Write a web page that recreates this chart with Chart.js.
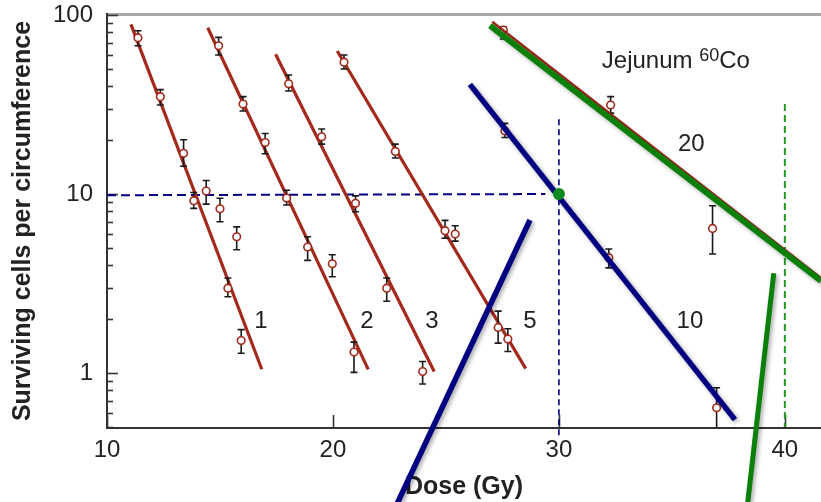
<!DOCTYPE html>
<html><head><meta charset="utf-8">
<script src="https://cdn.jsdelivr.net/npm/chart.js@4.4.1/dist/chart.umd.min.js"></script>
<style>html,body{margin:0;padding:0;background:#fff;overflow:hidden}</style>
</head><body>
<canvas id="c" width="821" height="502"></canvas>
<script>
// ---------------- data ----------------
const xTicks = [10, 20, 30, 40];
const yTickLabels = [1, 10, 100];

// measured survival points (dose Gy, surviving cells) with error bar ends
const pointDose = [11.37,12.36,13.39,14.94,16.02,17.00,18.04,19.50,20.49,22.76,
                   13.84,14.39,15.00,15.74,15.35,15.94,17.95,18.88,19.97,20.93,
                   21.00,22.38,23.97,24.96,25.41,27.31,27.74,27.54,27.61,32.21,
                   32.29,36.80,36.98];
const pointSurv = [74.7,35.0,16.9,67.3,31.8,19.4,41.3,20.9,54.5,17.3,
                   9.18,10.4,8.27,5.77,2.98,1.52,9.50,5.06,4.08,1.31,
                   8.88,2.98,1.02,6.24,5.98,1.80,1.55,82.4,22.5,4.41,
                   31.4,6.43,0.64];
const pointHi   = [81.7,38.3,20.1,75.0,35.0,21.8,46.2,23.1,59.8,19.0,
                   10.2,11.9,9.47,6.56,3.40,1.75,10.5,5.77,4.58,1.49,
                   9.77,3.40,1.16,7.13,6.65,2.22,1.77,86.0,24.8,4.93,
                   35.0,8.61,0.828];
const pointLo   = [67.3,31.4,14.3,59.8,29.1,16.8,37.6,19.0,49.9,15.9,
                   8.32,8.79,7.00,4.89,2.67,1.29,8.69,4.26,3.45,1.01,
                   7.96,2.52,0.87,5.66,5.46,1.47,1.32,73.4,20.7,3.87,
                   28.3,4.63,0.45];

// fitted survival curves (end points: dose, survival)
const fit1Dose = [11.06, 16.85];  const fit1Surv = [88.7, 1.05];
const fit2Dose = [14.46, 21.56];  const fit2Surv = [84.9, 1.05];
const fit3Dose = [17.46, 24.48];  const fit3Surv = [60.3, 1.02];
const fit5Dose = [20.19, 28.53];  const fit5Surv = [62.9, 1.06];
const fit10Dose = [26.06, 37.79]; const fit10Surv = [41.0, 0.55];
const fit20RedDose = [27.05, 41.6]; const fit20RedSurv = [91.8, 3.39];
const fit20Dose = [26.95, 41.6];  const fit20Surv = [87.1, 3.27];
const blueRiseDose = [22.50, 28.72]; const blueRiseSurv = [0.151, 7.16];
const greenRiseDose = [38.27, 39.51]; const greenRiseSurv = [0.151, 3.61];

// reference lines
const refHDose = [10, 29.4];   const refHSurv = [9.85, 10];
const refVDose = [30, 30];     const refVSurv = [26.2, 0.45];
const ref40Dose = [40, 40];    const ref40Surv = [31.8, 0.5];
const markDose = [30];         const markSurv = [10];

// text annotations
const labelText = ['1', '2', '3', '5', '10', '20'];
const labelDose = [16.81, 21.50, 24.38, 28.72, 35.80, 35.86];
const labelSurv = [1.95, 1.94, 1.94, 1.94, 1.94, 19.0];
const titleText = ['Jejunum ', '60', 'Co'];
const titleDose = 31.90, titleSurv = 50.6;

// ---------------- styles ----------------
const RED = '#a2291b', BLUE = '#000080', GREEN = '#0a800a', DGREEN = '#1f9a1f', INK = '#222222';
const FONT = '"Liberation Sans", Arial, Helvetica, sans-serif';
Chart.defaults.font.family = FONT;
Chart.defaults.color = INK;

const pts = (xs, ys) => xs.map((x, i) => ({x: x, y: ys[i]}));
const lineDs = (xs, ys, color, width, extra) => Object.assign({
  data: pts(xs, ys), showLine: true, borderColor: color, borderWidth: width,
  pointRadius: 0, pointHoverRadius: 0, fill: false, tension: 0
}, extra || {});

const datasets = [
  lineDs(refHDose, refHSurv, BLUE, 2, {borderDash: [9, 5], order: 10}),
  lineDs(refVDose, refVSurv, BLUE, 1.6, {borderDash: [6, 4], order: 10, clip: false}),
  lineDs(ref40Dose, ref40Surv, DGREEN, 2, {borderDash: [7, 4], order: 10}),
  lineDs(fit1Dose, fit1Surv, RED, 3.2, {order: 9}),
  lineDs(fit2Dose, fit2Surv, RED, 3.2, {order: 9}),
  lineDs(fit3Dose, fit3Surv, RED, 3.2, {order: 9}),
  lineDs(fit5Dose, fit5Surv, RED, 3.2, {order: 9}),
  {data: pts(pointDose, pointSurv), showLine: false, pointRadius: 3.8, pointHoverRadius: 3.8,
   pointBorderWidth: 1.6, pointBorderColor: RED, pointBackgroundColor: '#ffffff',
   order: 8, errorBars: true},
  lineDs(fit20RedDose, fit20RedSurv, RED, 2.5, {order: 4}),
  lineDs(fit10Dose, fit10Surv, BLUE, 5.5, {order: 3, shadow: true}),
  lineDs(blueRiseDose, blueRiseSurv, BLUE, 5.5, {order: 3, shadow: true, clip: false}),
  lineDs(fit20Dose, fit20Surv, GREEN, 6, {order: 2, shadow: true}),
  lineDs(greenRiseDose, greenRiseSurv, GREEN, 5, {order: 2, shadow: true, clip: false}),
  {data: pts(markDose, markSurv), showLine: false, pointRadius: 6, pointHoverRadius: 6,
   pointBorderWidth: 0, pointBackgroundColor: '#0e8a1e', order: 1}
];

const yMinor = [];
for (let e = -1; e <= 2; e++) for (let m = 1; m <= 9; m++) {
  const v = +(m * Math.pow(10, e)).toPrecision(6);
  if (v >= 0.5 && v <= 100) yMinor.push(v);
}
const isLabel = v => yTickLabels.some(t => Math.abs(t - v) < 1e-9);

const decor = {
  id: 'decor',
  beforeDatasetsDraw(chart) {
    const {ctx, chartArea: a, scales: {x, y}} = chart;
    ctx.save();
    // top gray frame line
    ctx.strokeStyle = '#a6a6a6'; ctx.lineWidth = 3;
    ctx.beginPath(); ctx.moveTo(a.left, a.top - 0.5); ctx.lineTo(chart.width, a.top - 0.5); ctx.stroke();
    // axes
    ctx.strokeStyle = '#333'; ctx.lineWidth = 2;
    ctx.beginPath(); ctx.moveTo(a.left, a.top - 2); ctx.lineTo(a.left, a.bottom + 1);
    ctx.lineTo(chart.width, a.bottom + 1); ctx.stroke();
    // y ticks (inward)
    ctx.lineWidth = 1.6;
    yMinor.forEach(v => {
      const py = Math.round(y.getPixelForValue(v)) + 0.5;
      const len = isLabel(v) ? 11 : 6;
      ctx.beginPath(); ctx.moveTo(a.left, py); ctx.lineTo(a.left + len, py); ctx.stroke();
    });
    // x ticks (inward)
    xTicks.forEach(v => {
      const px = Math.round(x.getPixelForValue(v)) + 0.5;
      ctx.beginPath(); ctx.moveTo(px, a.bottom); ctx.lineTo(px, a.bottom - 12); ctx.stroke();
    });
    ctx.restore();
  },
  beforeDatasetDraw(chart, args) {
    const ds = chart.data.datasets[args.index];
    const ctx = chart.ctx;
    if (ds.shadow) {
      ctx.save();
      ctx.shadowColor = 'rgba(0,0,0,0.35)';
      ctx.shadowBlur = 4; ctx.shadowOffsetX = 2; ctx.shadowOffsetY = 2;
    }
    if (ds.errorBars) {
      const {chartArea: a, scales: {x, y}} = chart;
      ctx.save();
      ctx.beginPath(); ctx.rect(a.left, a.top, a.right - a.left, a.bottom - a.top); ctx.clip();
      ctx.strokeStyle = '#1a1a1a'; ctx.lineWidth = 1.6;
      pointDose.forEach((d, i) => {
        const px = x.getPixelForValue(d);
        const yh = y.getPixelForValue(pointHi[i]);
        const yl = y.getPixelForValue(pointLo[i]);
        ctx.beginPath();
        ctx.moveTo(px, yh); ctx.lineTo(px, yl);
        ctx.moveTo(px - 3.5, yh); ctx.lineTo(px + 3.5, yh);
        ctx.moveTo(px - 3.5, yl); ctx.lineTo(px + 3.5, yl);
        ctx.stroke();
      });
      ctx.restore();
    }
  },
  afterDatasetDraw(chart, args) {
    const ds = chart.data.datasets[args.index];
    if (ds.shadow) chart.ctx.restore();
  },
  afterDatasetsDraw(chart) {
    const {ctx, scales: {x, y}} = chart;
    ctx.save();
    ctx.fillStyle = INK;
    ctx.textAlign = 'center'; ctx.textBaseline = 'middle';
    ctx.font = '24px ' + FONT;
    labelText.forEach((t, i) => {
      ctx.fillText(t, x.getPixelForValue(labelDose[i]), y.getPixelForValue(labelSurv[i]));
    });
    // Jejunum 60Co
    ctx.textAlign = 'left'; ctx.textBaseline = 'alphabetic';
    let px = x.getPixelForValue(titleDose);
    const py = y.getPixelForValue(titleSurv);
    ctx.font = '24px ' + FONT;
    ctx.fillText(titleText[0], px, py); px += ctx.measureText(titleText[0]).width;
    ctx.font = '18px ' + FONT;
    ctx.fillText(titleText[1], px, py - 7); px += ctx.measureText(titleText[1]).width;
    ctx.font = '24px ' + FONT;
    ctx.fillText(titleText[2], px, py);
    ctx.restore();
  }
};

new Chart(document.getElementById('c'), {
  type: 'scatter',
  data: {datasets: datasets},
  plugins: [decor],
  options: {
    responsive: false, animation: false, devicePixelRatio: 1,
    layout: {autoPadding: false, padding: {top: 15, right: 0, left: 0, bottom: 0}},
    plugins: {legend: {display: false}, tooltip: {enabled: false}},
    events: [],
    scales: {
      x: {
        type: 'linear', min: 10, max: 41.6,
        afterBuildTicks: s => { s.ticks = xTicks.map(v => ({value: v})); },
        afterFit: s => { s.height = 75; s.paddingLeft = 0; s.paddingRight = 0; },
        grid: {display: false, drawTicks: false},
        border: {display: false},
        ticks: {font: {size: 24}, color: INK, padding: 9, maxRotation: 0, autoSkip: false,
                callback: v => String(v)},
        title: {display: true, text: 'Dose (Gy)', color: INK,
                font: {size: 25, weight: 'bold'}, padding: {top: 0, bottom: 0}}
      },
      y: {
        type: 'logarithmic', min: 0.5, max: 100,
        afterBuildTicks: s => { s.ticks = yMinor.map(v => ({value: v})); },
        afterFit: s => { s.width = 107; s.paddingTop = 0; s.paddingBottom = 0; },
        grid: {display: false, drawTicks: false},
        border: {display: false},
        ticks: {font: {size: 24}, color: INK, padding: 14, autoSkip: false,
                callback: v => isLabel(v) ? String(v) : ''},
        title: {display: true, text: 'Surviving cells per circumference', color: INK,
                font: {size: 25, weight: 'bold'}, padding: {top: 8, bottom: 0}}
      }
    }
  }
});
</script>
</body></html>
